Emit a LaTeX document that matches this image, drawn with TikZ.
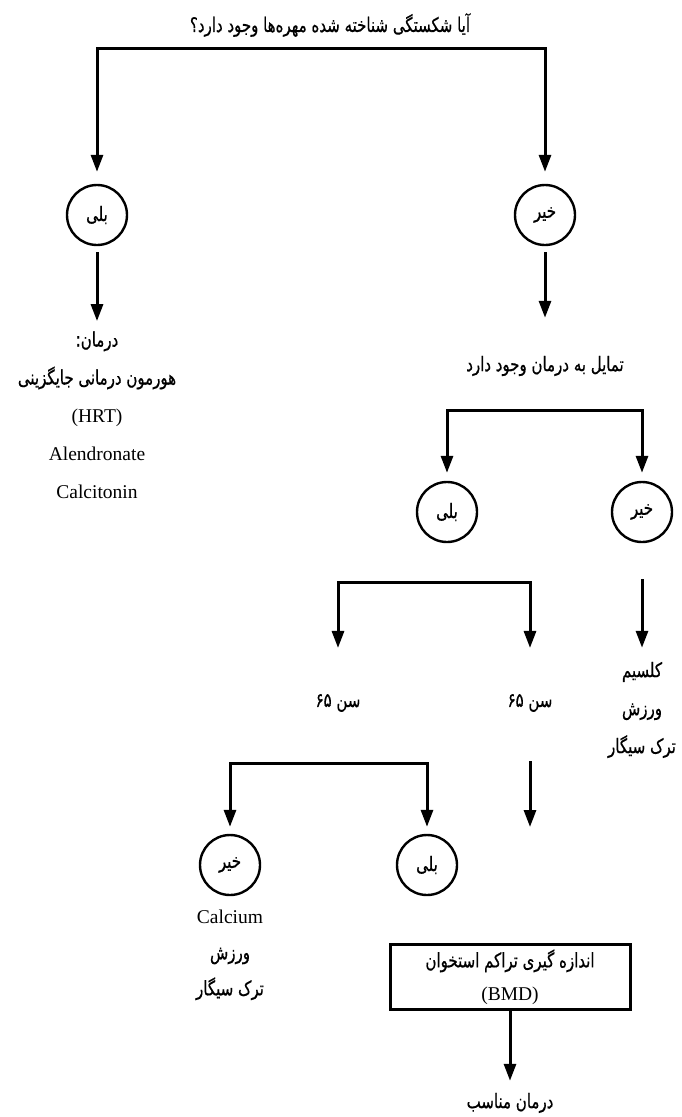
\documentclass[tikz,border=0pt]{standalone}
\usepackage{fontspec}
\setmainfont{Liberation Serif}
\newfontfamily\farsi[Script=Arabic,FakeStretch=0.75,FakeBold=0.6]{DejaVu Sans}
\TeXXeTstate=1
\usetikzlibrary{arrows.meta,positioning}
\newcommand{\fa}[1]{{\farsi\fontsize{20}{38}\selectfont\beginR#1\endR}}

\begin{document}
\begin{tikzpicture}[x=1pt,y=-1pt,
  ans/.style={draw,circle,line width=2.4pt,minimum size=60pt,inner sep=0pt},
  note/.style={align=center,inner sep=2pt,font=\fontsize{19.5}{38}\selectfont},
  box/.style={draw,line width=3pt,align=center,minimum width=240pt,minimum height=65pt,inner sep=2pt,font=\fontsize{19.5}{33}\selectfont},
  arrow/.style={-{Triangle[width=12pt,length=17pt]},line width=3pt}
]
\useasboundingbox (0,0) rectangle (682,1117);
\node[note] (question) at (330,25) {\fa{آیا شکستگی شناخته شده مهره‌ها وجود دارد؟}};
\coordinate (split1) at (321,48);
\node[ans] (yes1) at (97,215) {\fa{بلی}};
\node[ans] (no1) at (545,215) {\fa{خیر}};
\draw[arrow,shorten >=12pt] (split1) -| (yes1);
\draw[arrow,shorten >=12pt] (split1) -| (no1);
\node[note] (treat) at (97,415) {\fa{درمان:}\\\fa{هورمون درمانی جایگزینی}\\(HRT)\\Alendronate\\Calcitonin};
\node[note] (wish) at (545,366) {\fa{تمایل به درمان وجود دارد}};
\draw[arrow,shorten <=6pt,shorten >=8pt] (yes1) -- (treat);
\draw[arrow,shorten <=6pt,shorten >=36pt] (no1) -- (wish);
\coordinate (split2) at (544,410);
\node[ans] (yes2) at (447,512) {\fa{بلی}};
\node[ans] (no2) at (642,512) {\fa{خیر}};
\draw[arrow,shorten >=8pt] (split2) -| (yes2);
\draw[arrow,shorten >=8pt] (split2) -| (no2);
\node[note] (habits1) at (642,710) {\fa{کلسیم}\\\fa{ورزش}\\\fa{ترک سیگار}};
\draw[arrow,shorten <=36pt,shorten >=12pt] (no2) -- (habits1);
\coordinate (split3) at (434,582);
\node[note] (under) at (338,703) {\fa{سن \beginL۶۵\endL}};
\node[note] (over) at (530,703) {\fa{سن \beginL۶۵\endL}};
\draw[arrow,shorten >=44pt] (split3) -| (under);
\draw[arrow,shorten >=44pt] (split3) -| (over);
\coordinate (split4) at (328,763);
\node[ans] (no3) at (230,865) {\fa{خیر}};
\node[ans] (yes3) at (427,865) {\fa{بلی}};
\draw[arrow,shorten >=7pt] (split4) -| (no3);
\draw[arrow,shorten >=7pt] (split4) -| (yes3);
\coordinate (stop) at (530,827);
\draw[arrow,shorten <=47pt] (over) -- (stop);
\node[note,font=\fontsize{19.5}{36}\selectfont] (habits2) at (230,955) {Calcium\\\fa{ورزش}\\\fa{ترک سیگار}};
\node[box] (bmd) at (510,977) {\fa{اندازه گیری تراکم استخوان}\\(BMD)};
\node[note] (result) at (510,1103) {\fa{درمان مناسب}};
\draw[arrow,shorten >=10pt] (bmd) -- (result);
\end{tikzpicture}
\end{document}
